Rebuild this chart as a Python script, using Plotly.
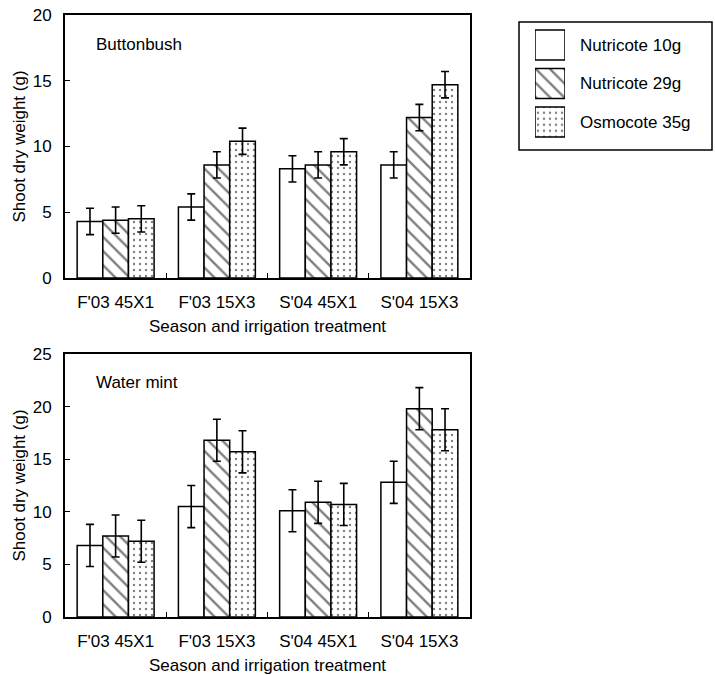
import plotly.graph_objects as go

categories = ["F'03 45X1", "F'03 15X3", "S'04 45X1", "S'04 15X3"]
series = ["Nutricote 10g", "Nutricote 29g", "Osmocote 35g"]

buttonbush_10g = [4.3, 5.4, 8.3, 8.6]
buttonbush_29g = [4.4, 8.6, 8.6, 12.2]
buttonbush_35g = [4.5, 10.4, 9.6, 14.7]
buttonbush_err_10g = [1.0, 1.0, 1.0, 1.0]
buttonbush_err_29g = [1.0, 1.0, 1.0, 1.0]
buttonbush_err_35g = [1.0, 1.0, 1.0, 1.0]

watermint_10g = [6.8, 10.5, 10.1, 12.8]
watermint_29g = [7.7, 16.8, 10.9, 19.8]
watermint_35g = [7.2, 15.7, 10.7, 17.8]
watermint_err_10g = [2.0, 2.0, 2.0, 2.0]
watermint_err_29g = [2.0, 2.0, 2.0, 2.0]
watermint_err_35g = [2.0, 2.0, 2.0, 2.0]

y_ticks_top = [0, 5, 10, 15, 20]
y_ticks_bottom = [0, 5, 10, 15, 20, 25]

W, H = 715, 675
FONT = "Liberation Sans, Arial, sans-serif"

patterns = [
    dict(shape="", fillmode="overlay"),
    dict(shape="\\", size=10, solidity=0.24, fgcolor="black", bgcolor="white", fillmode="overlay"),
    dict(shape=".", size=6, solidity=0.12, fgcolor="black", bgcolor="white", fillmode="overlay"),
]

def px(xp):
    return xp / W

def py(yp):
    return 1 - yp / H

fig = go.Figure()

top_vals = [buttonbush_10g, buttonbush_29g, buttonbush_35g]
top_errs = [buttonbush_err_10g, buttonbush_err_29g, buttonbush_err_35g]
bot_vals = [watermint_10g, watermint_29g, watermint_35g]
bot_errs = [watermint_err_10g, watermint_err_29g, watermint_err_35g]

for vals, errs, xa, ya in [(top_vals, top_errs, "x", "y"), (bot_vals, bot_errs, "x2", "y2")]:
    for i, name in enumerate(series):
        fig.add_trace(go.Bar(
            x=categories, y=vals[i], name=name, xaxis=xa, yaxis=ya,
            marker=dict(color="white", line=dict(color="black", width=1.5), pattern=patterns[i]),
            error_y=dict(type="data", array=errs[i], color="black", thickness=1.6, width=4),
            showlegend=False,
        ))

# legend swatches drawn as bars on their own small axis
for i, name in enumerate(series):
    fig.add_trace(go.Bar(
        x=[1], y=[name], orientation="h", xaxis="x3", yaxis="y3", width=0.78,
        marker=dict(color="white", line=dict(color="black", width=1.5), pattern=patterns[i]),
        showlegend=False, hoverinfo="skip",
    ))
    fig.add_annotation(x=1, y=name, xref="x3", yref="y3", text=name, showarrow=False,
                       xanchor="left", yanchor="middle", xshift=13,
                       font=dict(family=FONT, size=17, color="black"))

axis_common = dict(showline=True, linecolor="black", linewidth=2, mirror=True,
                   showgrid=False, zeroline=False, tickfont=dict(family=FONT, size=17, color="black"))

xaxis_common = dict(axis_common, type="category", ticks="inside", ticklen=5, tickcolor="black",
                    tickwidth=1, tickson="boundaries", ticklabelstandoff=8,
                    title=dict(text="Season and irrigation treatment",
                               font=dict(family=FONT, size=17, color="black"), standoff=9))

yaxis_common = dict(axis_common, ticks="inside", ticklen=5, tickcolor="black", tickwidth=1,
                    ticklabelstandoff=8,
                    title=dict(text="Shoot dry weight (g)",
                               font=dict(family=FONT, size=17, color="black"), standoff=3))

fig.update_layout(
    width=W, height=H,
    margin=dict(l=0, r=0, t=0, b=0, autoexpand=False),
    paper_bgcolor="white", plot_bgcolor="white",
    barmode="group", bargap=0.24, bargroupgap=0,
    font=dict(family=FONT, size=17, color="black"),
    xaxis=dict(xaxis_common, domain=[px(65), px(470)], anchor="y"),
    yaxis=dict(yaxis_common, domain=[py(278), py(15)], anchor="x", range=[0, 20],
               tickvals=y_ticks_top),
    xaxis2=dict(xaxis_common, domain=[px(65), px(470)], anchor="y2"),
    yaxis2=dict(yaxis_common, domain=[py(617), py(354)], anchor="x2", range=[0, 25],
                tickvals=y_ticks_bottom),
    xaxis3=dict(domain=[px(535), px(565)], anchor="y3", range=[0, 1], visible=False, fixedrange=True),
    yaxis3=dict(domain=[py(141.25), py(25.75)], anchor="x3", type="category",
                categoryorder="array", categoryarray=series, autorange="reversed",
                visible=False, fixedrange=True),
    showlegend=False,
)

fig.add_shape(type="rect", xref="paper", yref="paper",
              x0=px(519), x1=px(712), y0=py(150), y1=py(22),
              line=dict(color="black", width=1.5))

fig.add_annotation(x=px(94), y=py(45), xref="paper", yref="paper", text="Buttonbush",
                   showarrow=False, xanchor="left", yanchor="middle",
                   font=dict(family=FONT, size=17, color="black"))
fig.add_annotation(x=px(94), y=py(382), xref="paper", yref="paper", text="Water mint",
                   showarrow=False, xanchor="left", yanchor="middle",
                   font=dict(family=FONT, size=17, color="black"))

fig.write_html("out.html", config={"displayModeBar": False},
               post_script="document.body.style.margin='0';document.body.style.overflow='hidden';")
